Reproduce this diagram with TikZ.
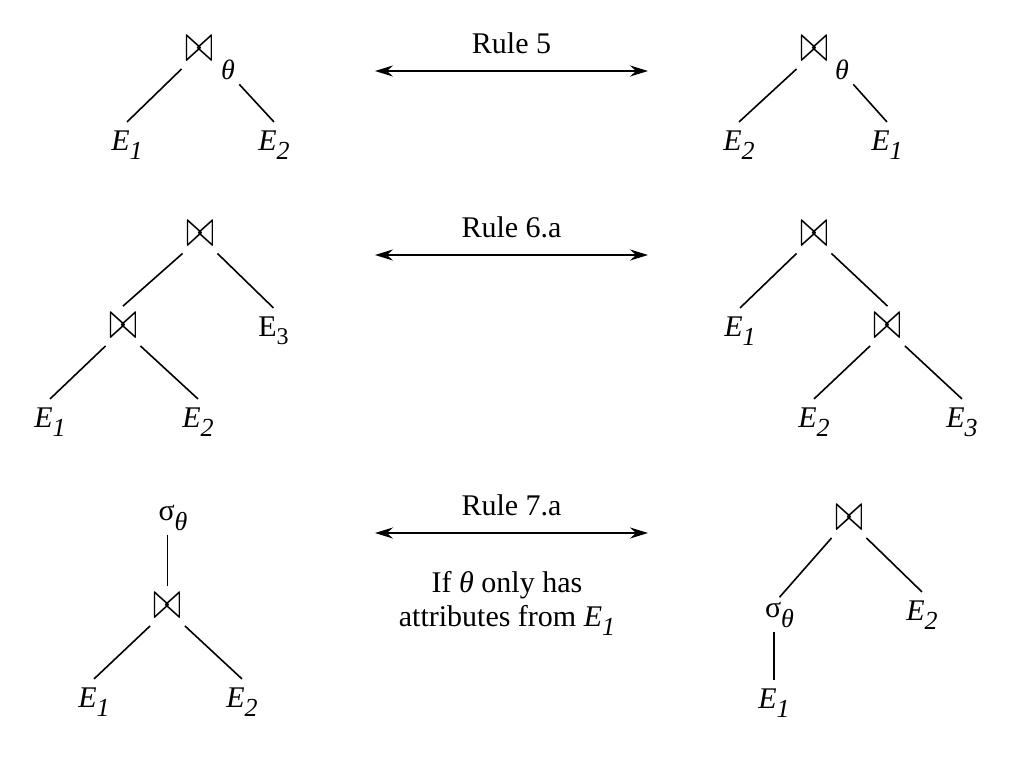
\documentclass[tikz,border=0pt]{standalone}
\usepackage{fontspec}
\setmainfont{Liberation Serif}
\usepackage{graphicx}
\usetikzlibrary{arrows.meta, positioning}

\newcommand{\Erel}[1]{\textit{E}\raisebox{-4.5pt}{\fontsize{13}{13}\selectfont\textit{#1}}}
\newcommand{\Eup}[1]{E\raisebox{-4pt}{\fontsize{12}{12}\selectfont #1}}
\newcommand{\selth}{σ\raisebox{-5pt}{\fontsize{13}{13}\selectfont\textit{θ}}}
\newcommand{\joinsym}{\resizebox{14pt}{12.5pt}{$\bowtie$}}

\begin{document}
\begin{tikzpicture}[x=0.5pt, y=-0.5pt,
    every node/.style={font=\fontsize{15}{17}\selectfont},
    op/.style={inner xsep=1.5pt, inner ysep=3.5pt},
    rel/.style={anchor=base, inner sep=4pt},
    sel/.style={anchor=base, inner sep=2pt},
    theta/.style={inner sep=2pt, font=\fontsize{14}{14}\selectfont\itshape},
    cond/.style={align=center, anchor=north},
    edge/.style={line width=0.8pt},
    arrow/.style={<->, >={Stealth[length=9pt, width=5.5pt, inset=3pt]}, line width=0.9pt}]

    \useasboundingbox (0,0) rectangle (1014,757);

    % Rule 5
    \node[op] (j1) at (199,49) {\joinsym};
    \node[theta] (t1) at (228,70) {θ};
    \node[rel] (e11) at (127,150) {\Erel{1}};
    \node[rel] (e12) at (274,150) {\Erel{2}};

    \node[op] (j2) at (814,49) {\joinsym};
    \node[theta] (t2) at (842,70) {θ};
    \node[rel] (e22) at (739,150) {\Erel{2}};
    \node[rel] (e21) at (887,150) {\Erel{1}};

    \coordinate (a1l) at (375,71);
    \coordinate (a1r) at (648,71);
    \draw[arrow] (a1l) -- node[above=5pt] (r1) {Rule 5} (a1r);

    % Rule 6.a
    \node[op] (j3) at (200,233.5) {\joinsym};
    \node[op] (j3b) at (123,326) {\joinsym};
    \node[rel] (e33) at (273.5,336) {\Eup{3}};
    \node[rel] (e31) at (50,427) {\Erel{1}};
    \node[rel] (e32) at (198,427) {\Erel{2}};

    \node[op] (j4) at (814,233.5) {\joinsym};
    \node[rel] (e41) at (740,336) {\Erel{1}};
    \node[op] (j4b) at (887.5,326) {\joinsym};
    \node[rel] (e42) at (814,427) {\Erel{2}};
    \node[rel] (e43) at (962,427) {\Erel{3}};

    \coordinate (a2l) at (375,255);
    \coordinate (a2r) at (648,255);
    \draw[arrow] (a2l) -- node[above=5pt] (r2) {Rule 6.a} (a2r);

    % Rule 7.a
    \node[sel] (s5) at (173,520) {\selth};
    \node[op] (j5) at (167.5,606) {\joinsym};
    \node[rel] (e51) at (94,707) {\Erel{1}};
    \node[rel] (e52) at (242,707) {\Erel{2}};

    \node[op] (j6) at (849,518) {\joinsym};
    \node[sel] (s6) at (779.5,617) {\selth};
    \node[rel] (e62) at (922,620) {\Erel{2}};
    \node[rel] (e61) at (774,708) {\Erel{1}};

    \coordinate (a3l) at (375,533);
    \coordinate (a3r) at (648,533);
    \draw[arrow] (a3l) -- node[above=5pt] (r3) {Rule 7.a} (a3r);
    \node[cond] (cond) at (507,564) {If \textit{θ} only has\\attributes from \Erel{1}};

    % Edges
    \draw[edge] (j1.south west) -- (e11.north);
    \draw[edge] (t1.south east) -- (e12.north);
    \draw[edge] (j2.south west) -- (e22.north);
    \draw[edge] (t2.south east) -- (e21.north);

    \draw[edge] (j3.south west) -- (j3b.north);
    \draw[edge] (j3.south east) -- (e33.north);
    \draw[edge] (j3b.south west) -- (e31.north);
    \draw[edge] (j3b.south east) -- (e32.north);
    \draw[edge] (j4.south west) -- (e41.north);
    \draw[edge] (j4.south east) -- (j4b.north);
    \draw[edge] (j4b.south west) -- (e42.north);
    \draw[edge] (j4b.south east) -- (e43.north);

    \draw[edge] (j5 |- s5.south) -- (j5.north);
    \draw[edge] (j5.south west) -- (e51.north);
    \draw[edge] (j5.south east) -- (e52.north);
    \draw[edge] (j6.south west) -- (s6.north);
    \draw[edge] (j6.south east) -- (e62.north);
    \draw[edge] (e61 |- s6.south) -- (e61.north);
\end{tikzpicture}
\end{document}
